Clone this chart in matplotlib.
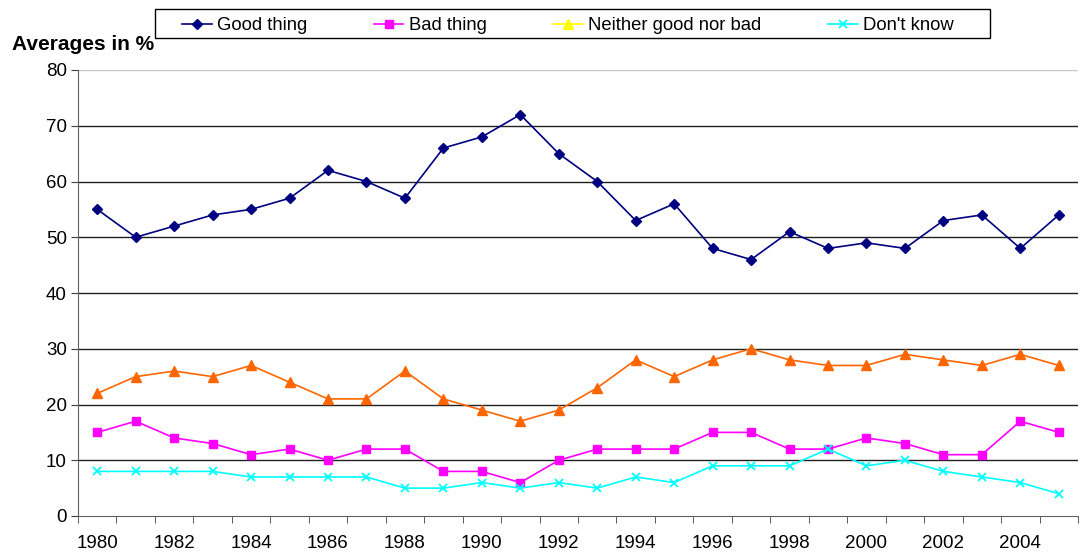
import matplotlib
matplotlib.use("Agg")
import matplotlib.pyplot as plt
from matplotlib.lines import Line2D
from matplotlib.patches import Rectangle
import numpy as np

plt.rcParams['font.family'] = ['Liberation Sans', 'DejaVu Sans']

years = list(range(1980, 2006))
good = [55, 50, 52, 54, 55, 57, 62, 60, 57, 66, 68, 72, 65, 60, 53, 56, 48, 46, 51, 48, 49, 48, 53, 54, 48, 54]
bad = [15, 17, 14, 13, 11, 12, 10, 12, 12, 8, 8, 6, 10, 12, 12, 12, 15, 15, 12, 12, 14, 13, 11, 11, 17, 15]
neither = [22, 25, 26, 25, 27, 24, 21, 21, 26, 21, 19, 17, 19, 23, 28, 25, 28, 30, 28, 27, 27, 29, 28, 27, 29, 27]
dont_know = [8, 8, 8, 8, 7, 7, 7, 7, 5, 5, 6, 5, 6, 5, 7, 6, 9, 9, 9, 12, 9, 10, 8, 7, 6, 4]
y_ticks = [0, 10, 20, 30, 40, 50, 60, 70, 80]

fig = plt.figure(figsize=(10.8, 5.54), dpi=100)
ax = fig.add_axes([78 / 1080, 1 - 516 / 554, 1000 / 1080, 446 / 554])

x = np.arange(len(years))
ax.plot(x, good, color='#000080', marker='D', markersize=5.5, lw=1.2, zorder=4)
ax.plot(x, bad, color='#FF00FF', marker='s', markersize=6, lw=1.2, zorder=3)
ax.plot(x, neither, color='#FF6600', marker='^', markersize=6.5, lw=1.2, zorder=3)
ax.plot(x, dont_know, color='#00FFFF', marker='x', markersize=6, mew=1.3, lw=1.2, zorder=3)

ax.set_xlim(-0.5, len(years) - 0.5)
ax.set_ylim(0, 80)
ax.set_yticks(y_ticks)
ax.set_yticklabels([str(v) for v in y_ticks], fontsize=13.5)
for v in y_ticks[1:]:
    ax.axhline(v, color='#C8C8C8' if v == 80 else '#202020', lw=1.0, zorder=1)

# category boundaries carry the tick marks, labels sit on every second year
ax.set_xticks(np.arange(-0.5, len(years), 1.0), minor=True)
ax.set_xticks(x[::2])
ax.set_xticklabels([str(y) for y in years[::2]], fontsize=13.5)
ax.tick_params(axis='x', which='major', length=0, pad=14)
ax.tick_params(axis='x', which='minor', length=5, color='#404040', direction='out')
ax.tick_params(axis='y', length=5, color='#404040', direction='out', pad=3)

for side in ['top', 'right']:
    ax.spines[side].set_visible(False)
ax.spines['left'].set_color('#606060')
ax.spines['bottom'].set_color('#606060')

fig.text(12 / 1080, 1 - 44 / 554, 'Averages in %', fontsize=15, fontweight='bold', va='center', ha='left')

# legend box
fig.patches.append(Rectangle((155 / 1080, 1 - 38 / 554), 835 / 1080, 29 / 554,
                             transform=fig.transFigure, facecolor='white',
                             edgecolor='black', lw=1.0, zorder=5))

handles = [
    Line2D([], [], color='#000080', marker='D', markersize=5.5, lw=1.2),
    Line2D([], [], color='#FF00FF', marker='s', markersize=6, lw=1.2),
    Line2D([], [], color='#FFFF00', marker='^', markersize=6.5, lw=1.2),
    Line2D([], [], color='#00FFFF', marker='x', markersize=6, mew=1.3, lw=1.2),
]
labels = ['Good thing', 'Bad thing', 'Neither good nor bad', "Don't know"]
leg = fig.legend(handles, labels, ncol=4, loc='center',
                 bbox_to_anchor=(568 / 1080, 1 - 26 / 554),
                 borderaxespad=0, fontsize=13.3, frameon=False,
                 handlelength=1.6, handletextpad=0.3,
                 borderpad=0.0, columnspacing=3.6)
leg.set_zorder(6)

fig.savefig('out.png', dpi=100)
